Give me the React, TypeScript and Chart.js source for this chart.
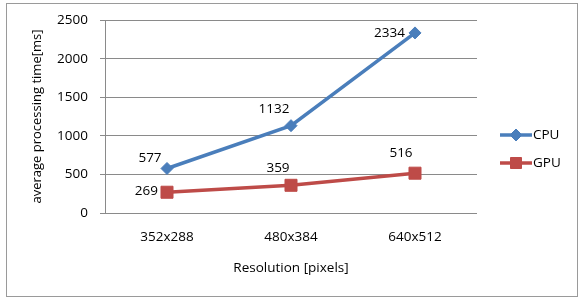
import React, { useEffect, useRef } from "react";
import { Chart, registerables } from "chart.js";

Chart.register(...registerables);

const categories = ["352x288", "480x384", "640x512"];
const cpuValues = [577, 1132, 2334];
const gpuValues = [269, 359, 516];
const yTicks = [0, 500, 1000, 1500, 2000, 2500];
const xTitle = "Resolution [pixels]";
const yTitle = "average processing time[ms]";

const FONT = "'Open Sans', sans-serif";
const CPU_COLOR = "#4A7EBB";
const GPU_COLOR = "#BE4B48";
const GRID = "#8a8a8a";

// label placement relative to each point: [dx, dy, align]
const labelPlacement: Array<Array<[number, number, CanvasTextAlign]>> = [
  [[-17, -10, "center"], [-17, -16, "center"], [-10, 0, "right"]],
  [[-9, -1, "right"], [-13, -17, "center"], [-14, -20, "center"]],
];

const framePlugin = {
  id: "frame",
  beforeDraw(chart: any) {
    const ctx = chart.ctx;
    ctx.save();
    ctx.fillStyle = "#ffffff";
    ctx.fillRect(0, 0, chart.width, chart.height);
    ctx.strokeStyle = "#9a9a9a";
    ctx.lineWidth = 1;
    ctx.strokeRect(6.5, 3.5, 571, 293);
    ctx.restore();
  },
};

const labelsPlugin = {
  id: "valueLabels",
  afterDatasetsDraw(chart: any) {
    const ctx = chart.ctx;
    ctx.save();
    ctx.font = `13.5px ${FONT}`;
    ctx.fillStyle = "#000";
    ctx.textBaseline = "middle";
    chart.data.datasets.forEach((ds: any, di: number) => {
      const meta = chart.getDatasetMeta(di);
      meta.data.forEach((pt: any, i: number) => {
        const [dx, dy, align] = labelPlacement[di][i];
        ctx.textAlign = align;
        ctx.fillText(String(ds.data[i]), pt.x + dx, pt.y + dy);
      });
    });
    ctx.restore();
  },
};

const legendPlugin = {
  id: "customLegend",
  afterDraw(chart: any) {
    const ctx = chart.ctx;
    const x0 = 500;
    const x1 = 532;
    const ys = [135, 163];
    ctx.save();
    chart.data.datasets.forEach((ds: any, di: number) => {
      const y = ys[di];
      ctx.strokeStyle = ds.borderColor;
      ctx.lineWidth = ds.borderWidth;
      ctx.beginPath();
      ctx.moveTo(x0, y);
      ctx.lineTo(x1, y);
      ctx.stroke();
      ctx.fillStyle = ds.pointBackgroundColor;
      ctx.strokeStyle = ds.pointBorderColor;
      ctx.lineWidth = 1;
      const cx = (x0 + x1) / 2;
      ctx.beginPath();
      if (ds.pointStyle === "rect") {
        ctx.rect(cx - 5.5, y - 5.5, 11, 11);
      } else {
        const r = 6;
        ctx.moveTo(cx, y - r);
        ctx.lineTo(cx + r, y);
        ctx.lineTo(cx, y + r);
        ctx.lineTo(cx - r, y);
        ctx.closePath();
      }
      ctx.fill();
      ctx.stroke();
      ctx.fillStyle = "#000";
      ctx.font = `13.5px ${FONT}`;
      ctx.textAlign = "left";
      ctx.textBaseline = "middle";
      ctx.fillText(ds.label, x1 + 1, y);
    });
    ctx.restore();
  },
};

export default function App() {
  const ref = useRef<HTMLCanvasElement>(null);
  useEffect(() => {
    document.body.style.margin = "0";
    const chart = new Chart(ref.current as HTMLCanvasElement, {
      type: "line",
      data: {
        labels: categories,
        datasets: [
          {
            label: "CPU",
            data: cpuValues,
            borderColor: CPU_COLOR,
            backgroundColor: CPU_COLOR,
            borderWidth: 3.5,
            pointStyle: "rectRot",
            pointRadius: 6,
            pointBackgroundColor: CPU_COLOR,
            pointBorderColor: CPU_COLOR,
            pointBorderWidth: 1,
            tension: 0,
          },
          {
            label: "GPU",
            data: gpuValues,
            borderColor: GPU_COLOR,
            backgroundColor: GPU_COLOR,
            borderWidth: 3.5,
            pointStyle: "rect",
            pointRadius: 8.5,
            pointBackgroundColor: GPU_COLOR,
            pointBorderColor: GPU_COLOR,
            pointBorderWidth: 1,
            tension: 0,
          },
        ],
      },
      options: {
        responsive: false,
        animation: false,
        layout: { padding: { left: 29, top: 20, right: 104, bottom: 0 } },
        plugins: {
          legend: { display: false },
          tooltip: { enabled: false },
        },
        scales: {
          x: {
            offset: true,
            grid: { display: false, drawTicks: false },
            border: { display: false },
            ticks: {
              padding: 16,
              color: "#000",
              font: { family: FONT, size: 13.5 },
            },
            title: {
              display: true,
              text: xTitle,
              color: "#000",
              font: { family: FONT, size: 13.5 },
              padding: { top: 0, bottom: 26 },
            },
            afterFit(scale: any) {
              scale.height = 89;
            },
          },
          y: {
            min: 0,
            max: 2500,
            afterBuildTicks(scale: any) {
              scale.ticks = yTicks.map((v) => ({ value: v }));
            },
            grid: { color: GRID, lineWidth: 1, tickLength: 5, drawTicks: true },
            border: { display: true, color: GRID, width: 1 },
            ticks: {
              padding: 12,
              color: "#000",
              font: { family: FONT, size: 13.5 },
              callback: (v: any) => String(v),
            },
            title: {
              display: true,
              text: yTitle,
              color: "#000",
              font: { family: FONT, size: 13 },
              padding: { top: 0, bottom: 0 },
            },
            afterFit(scale: any) {
              scale.width = 76;
            },
          },
        },
      },
      plugins: [framePlugin, labelsPlugin, legendPlugin],
    } as any);
    return () => chart.destroy();
  }, []);
  return <canvas ref={ref} width={581} height={302} style={{ display: "block" }} />;
}
